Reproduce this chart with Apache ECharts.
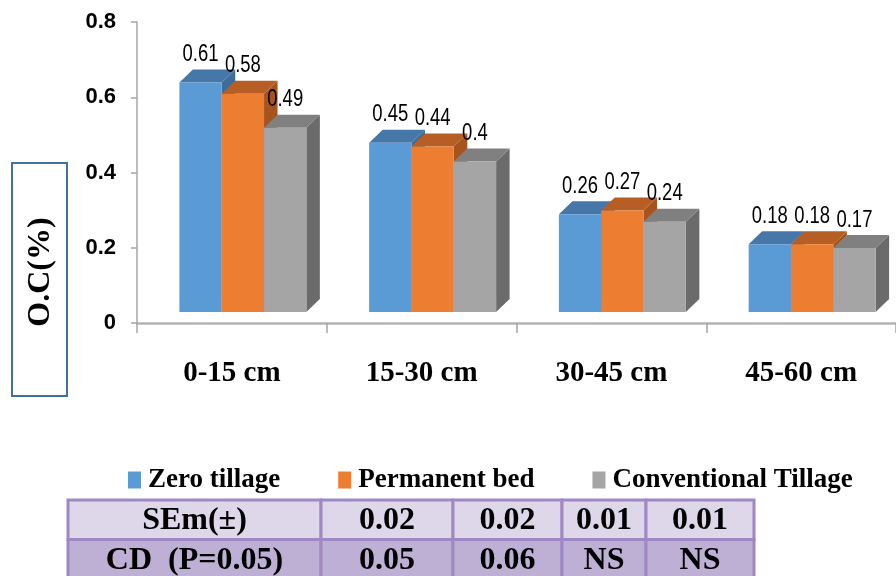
<!DOCTYPE html>
<html>
<head>
<meta charset="utf-8">
<script src="https://cdn.jsdelivr.net/npm/echarts@6/dist/echarts.min.js"></script>
<style>
  html, body { margin: 0; padding: 0; background: #ffffff; }
  #chart { width: 896px; height: 576px; }
</style>
</head>
<body>
<div id="chart"></div>
<script>
// Soil depth classes on the category axis
const categories = ['0-15 cm', '15-30 cm', '30-45 cm', '45-60 cm'];

// Organic carbon (%) per tillage practice
const seriesNames = ['Zero tillage', 'Permanent bed', 'Conventional Tillage'];
const zeroTillage = [0.61, 0.45, 0.26, 0.18];
const permanentBed = [0.58, 0.44, 0.27, 0.18];
const conventionalTillage = [0.49, 0.40, 0.24, 0.17];

// Statistics table under the chart
const semRow = ['SEm(\u00b1)', '0.02', '0.02', '0.01', '0.01'];
const cdRow = ['CD  (P=0.05)', '0.05', '0.06', 'NS', 'NS'];

// Face colours for the pseudo-3D columns: front, top, side
const palette = [
  { front: '#5B9BD5', top: '#4677A8', side: '#3F6D9A' },
  { front: '#ED7D31', top: '#B65E24', side: '#A6541E' },
  { front: '#A5A5A5', top: '#808080', side: '#6B6B6B' }
];

const DEPTH_X = 13.5;   // receding offset of the column's back face
const DEPTH_Y = -13;
const LIFT = 11;        // columns stand slightly behind the axis plane

function makeRender(si) {
  return function (params, api) {
    const cat = api.value(0);
    const v = api.value(1);
    const topPt = api.coord([cat, v]);
    const basePt = api.coord([cat, 0]);
    const band = api.size([1, 0])[0];
    const barW = band * 0.223;
    const shift = band * 0.058;
    const x0 = topPt[0] + shift - 1.5 * barW + si * barW;
    const x1 = x0 + barW;
    const yT = topPt[1] - LIFT;
    const yB = basePt[1] - LIFT;
    const c = palette[si];
    return {
      type: 'group',
      children: [
        {
          type: 'polygon',
          shape: { points: [[x1, yT], [x1 + DEPTH_X, yT + DEPTH_Y], [x1 + DEPTH_X, yB + DEPTH_Y], [x1, yB]] },
          style: { fill: c.side }
        },
        {
          type: 'polygon',
          shape: { points: [[x0, yT], [x1, yT], [x1 + DEPTH_X, yT + DEPTH_Y], [x0 + DEPTH_X, yT + DEPTH_Y]] },
          style: { fill: c.top }
        },
        {
          type: 'rect',
          shape: { x: x0, y: yT, width: barW, height: yB - yT },
          style: { fill: c.front }
        },
        {
          type: 'text',
          x: (x0 + x1) / 2,
          y: yT - 28,
          scaleX: 0.77,
          style: {
            text: String(v),
            font: '24px "Liberation Sans", Arial, sans-serif',
            fill: '#000000',
            align: 'center',
            verticalAlign: 'middle'
          }
        }
      ]
    };
  };
}

const seriesData = [zeroTillage, permanentBed, conventionalTillage];

const series = seriesData.map(function (vals, si) {
  return {
    type: 'custom',
    name: seriesNames[si],
    renderItem: makeRender(si),
    encode: { x: 0, y: 1 },
    itemStyle: { color: palette[si].front },
    data: vals.map(function (v, i) { return [i, v]; })
  };
});

// Table cells
const colEdges = [68, 321, 453, 562, 646, 754];
const rowTops = [500, 539.5];
const rowH = 39.5;
const rowFills = ['#DED7E9', '#BEB0D5'];
const tableRows = [semRow, cdRow];
const tableEls = [];
tableRows.forEach(function (row, r) {
  row.forEach(function (txt, c) {
    tableEls.push({
      type: 'rect',
      shape: { x: colEdges[c], y: rowTops[r], width: colEdges[c + 1] - colEdges[c], height: rowH },
      style: { fill: rowFills[r], stroke: '#9F88C3', lineWidth: 3 }
    });
  });
});
tableRows.forEach(function (row, r) {
  row.forEach(function (txt, c) {
    tableEls.push({
      type: 'text',
      x: (colEdges[c] + colEdges[c + 1]) / 2,
      y: rowTops[r] + rowH / 2 + 1,
      style: {
        text: txt,
        font: 'bold 32px "Liberation Serif", "Times New Roman", serif',
        fill: '#000000',
        align: 'center',
        verticalAlign: 'middle'
      }
    });
  });
});

const chart = echarts.init(document.getElementById('chart'), null, { renderer: 'canvas' });

chart.setOption({
  animation: false,
  backgroundColor: '#ffffff',
  grid: { left: 137, top: 22, width: 771, height: 301 },
  xAxis: {
    type: 'category',
    data: categories,
    boundaryGap: true,
    axisLine: { lineStyle: { color: '#B3B3B3', width: 2.5 } },
    axisTick: { show: true, length: 10, lineStyle: { color: '#A6A6A6', width: 1.5 } },
    axisLabel: {
      margin: 36,
      color: '#000000',
      fontFamily: '"Liberation Serif", "Times New Roman", serif',
      fontWeight: 'bold',
      fontSize: 29,
      lineHeight: 30
    },
    splitLine: { show: false }
  },
  yAxis: {
    type: 'value',
    min: 0,
    max: 0.8,
    interval: 0.2,
    axisLine: { show: true, lineStyle: { color: '#A6A6A6', width: 1.5 } },
    axisTick: { show: true, length: 6, lineStyle: { color: '#A6A6A6', width: 1.5 } },
    axisLabel: {
      margin: 21,
      color: '#000000',
      fontFamily: '"Liberation Sans", Arial, sans-serif',
      fontWeight: 'bold',
      fontSize: 22
    },
    splitLine: { show: false }
  },
  legend: {
    data: seriesNames,
    left: 123,
    top: 461,
    icon: 'rect',
    itemWidth: 13,
    itemHeight: 17,
    itemGap: 58,
    textStyle: {
      color: '#000000',
      fontFamily: '"Liberation Serif", "Times New Roman", serif',
      fontWeight: 'bold',
      fontSize: 27,
      lineHeight: 28,
      padding: [0, 0, 0, 2]
    }
  },
  graphic: [
    {
      type: 'rect',
      shape: { x: 12, y: 163, width: 55, height: 233 },
      style: { fill: '#ffffff', stroke: '#41719C', lineWidth: 2 },
      z: 1
    },
    {
      type: 'text',
      x: 41,
      y: 272,
      rotation: Math.PI / 2,
      style: {
        text: 'O.C(%)',
        font: 'bold 32px "Liberation Serif", "Times New Roman", serif',
        fill: '#000000',
        align: 'center',
        verticalAlign: 'middle'
      },
      z: 2
    },
    { type: 'group', children: tableEls }
  ],
  series: series
});
</script>
</body>
</html>
